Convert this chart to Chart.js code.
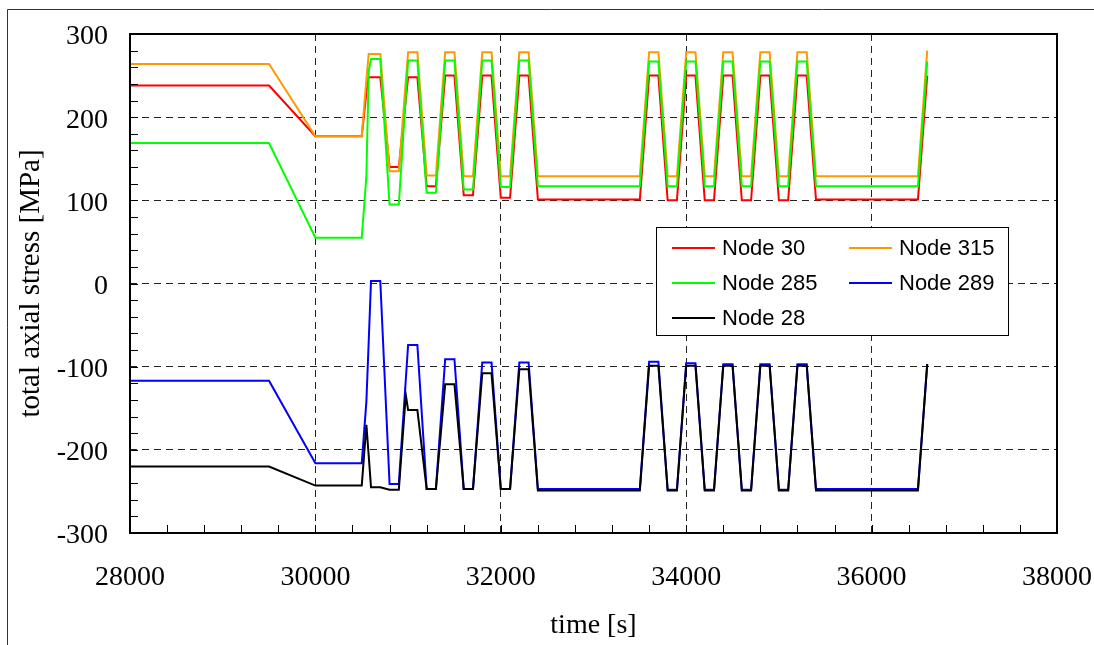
<!DOCTYPE html>
<html>
<head>
<meta charset="utf-8">
<title>total axial stress</title>
<script src="https://cdn.jsdelivr.net/npm/chart.js@4.4.0/dist/chart.umd.min.js"></script>
<style>
  html, body { margin: 0; padding: 0; background: #fff; }
  #wrap { width: 1094px; height: 645px; }
</style>
</head>
<body>
<div id="wrap"><canvas id="stressChart" width="1094" height="645"></canvas></div>
<script>
/* ===== DATA ===== */
const times = [28000, 29500, 30000, 30500, 30550, 30575, 30600, 30700, 30800, 30900, 30975, 31000,
  31100, 31200, 31300, 31400, 31500, 31600, 31700, 31800, 31900, 32000, 32100, 32200, 32300, 32400,
  33500, 33600, 33700, 33800, 33900, 34000, 34100, 34200, 34300, 34400, 34500, 34600, 34700, 34800,
  34900, 35000, 35100, 35200, 35300, 35400, 36500, 36600];

const node30 = [238, 238, 177, 177, 230, 248, 248, 248, 140, 140, 221, 248,
  248, 117, 117, 250, 250, 106, 106, 250, 250, 103, 103, 250, 250, 101,
  101, 250, 250, 100, 100, 250, 250, 100, 100, 250, 250, 100, 100, 250,
  250, 100, 100, 250, 250, 101, 101, 250];

const node315 = [264, 264, 177, 177, 245, 276, 276, 276, 135, 135, 243, 278,
  278, 130, 130, 278, 278, 129, 129, 278, 278, 129, 129, 278, 278, 129,
  129, 278, 278, 129, 129, 278, 278, 129, 129, 278, 278, 129, 129, 278,
  278, 129, 129, 278, 278, 129, 129, 280];

const node285 = [169, 169, 55, 55, 129, 255, 270, 270, 95, 95, 225, 268,
  268, 109, 109, 268, 268, 113, 113, 268, 268, 116, 116, 268, 268, 117,
  117, 267, 267, 117, 117, 267, 267, 117, 117, 267, 267, 117, 117, 267,
  267, 117, 117, 267, 267, 117, 117, 267];

const node289 = [-117, -117, -216, -216, -142, -70, 3, 3, -241, -241, -116, -74,
  -74, -247, -247, -91, -91, -247, -247, -95, -95, -247, -247, -95, -95, -247,
  -247, -94, -94, -248, -248, -96, -96, -248, -248, -97, -97, -248, -248, -97,
  -97, -248, -248, -97, -97, -247, -247, -97];

const node28 = [-220, -220, -243, -243, -170, -207, -245, -245, -248, -248, -134, -152,
  -152, -247, -247, -121, -121, -247, -247, -108, -108, -247, -247, -103, -103, -249,
  -249, -99, -99, -249, -249, -99, -99, -249, -249, -99, -99, -249, -249, -99,
  -99, -249, -249, -99, -99, -249, -249, -97];

const seriesNames  = ['Node 30', 'Node 315', 'Node 285', 'Node 289', 'Node 28'];
const seriesValues = [node30, node315, node285, node289, node28];
const seriesColors = ['#ff0000', '#ff9900', '#00ff00', '#0000ff', '#000000'];

const yTickLabels = [-300, -200, -100, 0, 100, 200, 300];
const xTickLabels = [28000, 30000, 32000, 34000, 36000, 38000];

/* ===== HELPERS ===== */
const SERIF = "'Liberation Serif', 'DejaVu Serif', serif";
const SANS  = "'Liberation Sans', Arial, sans-serif";
const isMajorY = v => yTickLabels.includes(Math.round(v));
const isMajorX = v => xTickLabels.includes(Math.round(v));

// minor ticks pointing inward, frame round the plot, legend box, outer frame
const decorations = {
  id: 'decorations',
  beforeDraw(chart) {
    const c = chart.ctx;
    c.save();
    c.fillStyle = '#fff';
    c.fillRect(0, 0, chart.width, chart.height);
    c.restore();
  },
  afterDatasetsDraw(chart) {
    const c = chart.ctx, a = chart.chartArea;
    const xs = chart.scales.x, ys = chart.scales.y;
    c.save();
    c.strokeStyle = '#000';
    c.lineWidth = 1;
    c.beginPath();
    ys.ticks.forEach(t => {
      const y = Math.round(ys.getPixelForValue(t.value)) + 0.5;
      c.moveTo(a.left, y); c.lineTo(a.left + 8, y);
    });
    xs.ticks.forEach(t => {
      const x = Math.round(xs.getPixelForValue(t.value)) + 0.5;
      c.moveTo(x, a.bottom); c.lineTo(x, a.bottom - 8);
    });
    c.stroke();

    c.lineWidth = 2;
    c.strokeRect(a.left, a.top, a.right - a.left, a.bottom - a.top);
    c.restore();
  },
  afterDraw(chart) {
    const c = chart.ctx;
    c.save();

    // outer frame (only its left and top edges fall inside the page)
    c.strokeStyle = '#333';
    c.lineWidth = 1;
    c.beginPath();
    c.moveTo(7.5, chart.height);
    c.lineTo(7.5, 9.5);
    c.lineTo(chart.width, 9.5);
    c.stroke();

    // legend
    const box = { x: 656.5, y: 227.5, w: 352, h: 108 };
    c.fillStyle = '#fff';
    c.fillRect(box.x, box.y, box.w, box.h);
    c.strokeStyle = '#000';
    c.lineWidth = 1;
    c.strokeRect(box.x, box.y, box.w, box.h);

    const cols = [672, 849], rows = [248, 283, 318];
    c.font = '22px ' + SANS;
    c.textBaseline = 'middle';
    c.textAlign = 'left';
    seriesNames.forEach((name, i) => {
      const x = cols[i % 2], y = rows[Math.floor(i / 2)];
      c.strokeStyle = seriesColors[i];
      c.lineWidth = 2;
      c.beginPath();
      c.moveTo(x, y); c.lineTo(x + 43, y);
      c.stroke();
      c.fillStyle = '#000';
      c.fillText(name, x + 50, y + 1);
    });
    c.restore();
  }
};

/* ===== CHART ===== */
const datasets = seriesNames.map((name, i) => ({
  label: name,
  data: times.map((t, k) => ({ x: t, y: seriesValues[i][k] })),
  borderColor: seriesColors[i],
  backgroundColor: seriesColors[i],
  borderWidth: 2,
  pointRadius: 0,
  tension: 0,
  fill: false,
  order: seriesNames.length - i
}));

new Chart(document.getElementById('stressChart'), {
  type: 'line',
  data: { datasets },
  plugins: [decorations],
  options: {
    responsive: false,
    animation: false,
    events: [],
    layout: { padding: { left: 0, top: 34, right: 37, bottom: 0 } },
    plugins: { legend: { display: false }, tooltip: { enabled: false } },
    scales: {
      x: {
        type: 'linear',
        min: 28000, max: 38000,
        // fixed band height, no extra room for the end labels
        afterFit: s => { s.height = 112; s.paddingLeft = 0; s.paddingRight = 0; },
        ticks: {
          stepSize: 400, autoSkip: false, maxRotation: 0, padding: 28,
          color: '#000', font: { family: SERIF, size: 28 },
          callback: v => isMajorX(v) ? String(Math.round(v)) : ''
        },
        grid: {
          drawTicks: false, lineWidth: 1,
          color: ctx => isMajorX(ctx.tick.value) ? '#222' : 'rgba(0,0,0,0)'
        },
        border: { display: false, dash: [7, 5] },
        title: {
          display: true, text: 'time [s]', color: '#000',
          font: { family: SERIF, size: 28 }, padding: { top: 0, bottom: 3 }
        }
      },
      y: {
        min: -300, max: 300,
        afterFit: s => { s.width = 130; s.paddingTop = 0; s.paddingBottom = 0; },
        ticks: {
          stepSize: 20, autoSkip: false, padding: 22, labelOffset: 3,
          color: '#000', font: { family: SERIF, size: 28 },
          callback: v => isMajorY(v) ? String(Math.round(v)) : ''
        },
        grid: {
          drawTicks: false, lineWidth: 1,
          color: ctx => isMajorY(ctx.tick.value) ? '#222' : 'rgba(0,0,0,0)'
        },
        border: { display: false, dash: [7, 5] },
        title: {
          display: true, text: 'total axial stress [MPa]', color: '#000',
          font: { family: SERIF, size: 29 }, padding: { top: 14, bottom: 0 }
        }
      }
    }
  }
});
</script>
</body>
</html>
